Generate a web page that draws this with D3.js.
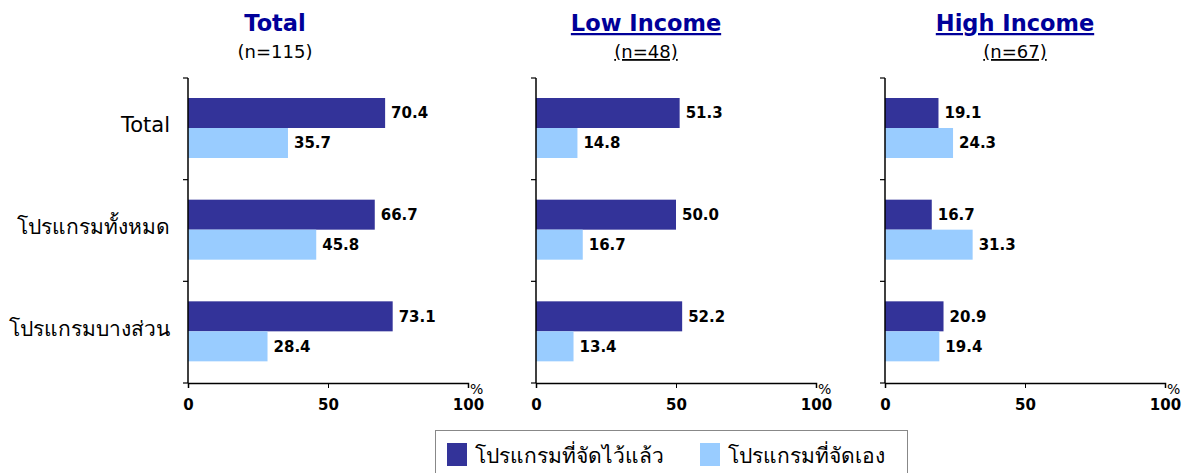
<!DOCTYPE html>
<html>
<head>
<meta charset="utf-8">
<script src="https://cdn.jsdelivr.net/npm/d3@7"></script>
<style>
  body { margin: 0; background: #fff; }
  svg text { font-family: "DejaVu Sans", Verdana, sans-serif; }
</style>
</head>
<body>
<svg id="chart" width="1190" height="473"></svg>
<script>
// Data
const categories = ['Total', 'โปรแกรมทั้งหมด', 'โปรแกรมบางส่วน'];
const seriesNames = ['โปรแกรมที่จัดไว้แล้ว', 'โปรแกรมที่จัดเอง'];
const panelTitles = ['Total', 'Low Income', 'High Income'];
const panelCounts = ['(n=115)', '(n=48)', '(n=67)'];
const totalValues = [[70.4, 35.7], [66.7, 45.8], [73.1, 28.4]];
const lowValues = [[51.3, 14.8], [50.0, 16.7], [52.2, 13.4]];
const highValues = [[19.1, 24.3], [16.7, 31.3], [20.9, 19.4]];
const xTicks = [0, 50, 100];

const colors = ['#333399', '#99ccff'];
const panels = [
    { title: panelTitles[0], n: panelCounts[0], values: totalValues, x0: 188, tx: 87, underline: false },
    { title: panelTitles[1], n: panelCounts[1], values: lowValues, x0: 536, tx: 110, underline: true },
    { title: panelTitles[2], n: panelCounts[2], values: highValues, x0: 885, tx: 130, underline: true }
];

const svg = d3.select('#chart');
const plotTop = 78, plotBottom = 383, plotW = 280;

const x = d3.scaleLinear().domain([0, 100]).range([0, plotW]);
const y = d3.scaleBand().domain(categories).range([plotTop, plotBottom]);
const ySub = d3.scaleBand().domain([0, 1]).range([20, 80]);

panels.forEach((p, pi) => {
    const g = svg.append('g').attr('transform', `translate(${p.x0},0)`);

    // titles
    g.append('text')
        .attr('x', p.tx).attr('y', 31)
        .attr('text-anchor', 'middle')
        .attr('font-size', 22.5).attr('font-weight', 'bold')
        .attr('fill', '#000099')
        .attr('text-decoration', p.underline ? 'underline' : null)
        .text(p.title);
    g.append('text')
        .attr('x', p.tx).attr('y', 58)
        .attr('text-anchor', 'middle')
        .attr('font-size', 18)
        .attr('fill', '#000')
        .attr('text-decoration', p.underline ? 'underline' : null)
        .text(p.n);

    // bars
    categories.forEach((c, ci) => {
        p.values[ci].forEach((v, si) => {
            const by = y(c) + ySub(si);
            g.append('rect')
                .attr('x', x(0)).attr('y', by)
                .attr('width', x(v) - x(0)).attr('height', ySub.bandwidth())
                .attr('fill', colors[si]);
            g.append('text')
                .attr('x', x(v) + 6).attr('y', by + ySub.bandwidth() / 2)
                .attr('dy', '0.36em')
                .attr('font-size', 15).attr('font-weight', 'bold')
                .text(v.toFixed(1));
        });
    });

    // y axis with ticks at band edges
    g.append('line')
        .attr('x1', 0).attr('x2', 0).attr('y1', plotTop).attr('y2', plotBottom)
        .attr('stroke', '#000').attr('stroke-width', 1.5);
    const edges = categories.map(c => y(c)).concat([plotBottom]);
    g.selectAll('.ytick').data(edges).join('line')
        .attr('x1', -5).attr('x2', 0)
        .attr('y1', d => d).attr('y2', d => d)
        .attr('stroke', '#000').attr('stroke-width', 1.2);

    // x axis
    const xAxis = g.append('g').attr('transform', `translate(0,${plotBottom})`)
        .call(d3.axisBottom(x).tickValues(xTicks).tickSize(5).tickPadding(11));
    xAxis.select('.domain').attr('stroke', '#000').attr('stroke-width', 1.5);
    xAxis.selectAll('.tick line').attr('stroke', '#000');
    xAxis.selectAll('text')
        .attr('font-size', 15).attr('font-weight', 'bold')
        .attr('font-family', '"DejaVu Sans", Verdana, sans-serif')
        .attr('fill', '#000');

    g.append('text')
        .attr('x', plotW + 2).attr('y', plotBottom + 11)
        .attr('font-size', 14)
        .text('%');

    // category labels only on first panel
    if (pi === 0) {
        g.selectAll('.cat').data(categories).join('text')
            .attr('x', -18)
            .attr('y', d => y(d) + y.bandwidth() / 2 - 4)
            .attr('dy', '0.36em')
            .attr('text-anchor', 'end')
            .attr('font-size', 21)
            .text(d => d);
    }
});

// legend
const lg = svg.append('g');
lg.append('rect')
    .attr('x', 435.5).attr('y', 430.5).attr('width', 472).attr('height', 50)
    .attr('fill', '#fff').attr('stroke', '#888');
const legendX = [447, 700];
seriesNames.forEach((s, i) => {
    lg.append('rect')
        .attr('x', legendX[i]).attr('y', 443).attr('width', 20).attr('height', 23)
        .attr('fill', colors[i]);
    lg.append('text')
        .attr('x', legendX[i] + 28).attr('y', 455)
        .attr('dy', '0.36em')
        .attr('font-size', 21)
        .text(s);
});
</script>
</body>
</html>
